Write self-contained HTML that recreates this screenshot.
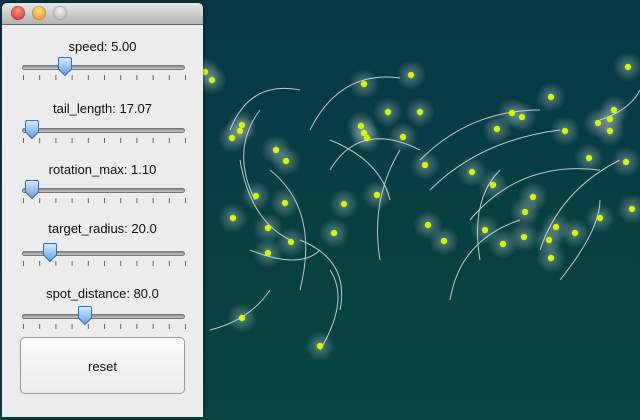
<!DOCTYPE html>
<html><head><meta charset="utf-8">
<style>
html,body{margin:0;padding:0;width:640px;height:420px;overflow:hidden;background:#073a44;font-family:"Liberation Sans",sans-serif;}
#canvas{position:absolute;left:0;top:0;}
#panel{position:absolute;left:2px;top:3px;width:201px;height:414px;background:#ececec;border-radius:5px 5px 0 0;box-shadow:0 0 4px rgba(0,0,0,.6);}
#titlebar{height:21px;border-radius:5px 5px 0 0;background:linear-gradient(#e8e8e8,#b4b4b4);border-bottom:1px solid #666;position:relative;}
.tl{position:absolute;top:3px;width:14px;height:14px;border-radius:50%;box-shadow:inset 0 0 1px rgba(0,0,0,.6);}
.lbl{position:absolute;left:0;width:201px;text-align:center;font-size:13px;color:#111;}
.track{position:absolute;left:20px;width:163px;height:5px;border-radius:3px;background:linear-gradient(#8a8a8a,#c8c8c8);border:1px solid #777;box-sizing:border-box;}
.ticks{position:absolute;left:21px;width:163px;height:5px;}
.thumb{position:absolute;width:16px;height:20px;}
#reset{position:absolute;left:18px;top:334px;width:165px;height:57px;border:1px solid #999;border-radius:5px;background:linear-gradient(#fafafa,#ececec);font-size:13px;text-align:center;line-height:57px;color:#111;box-sizing:border-box;}
</style></head><body>
<svg id="canvas" width="640" height="420" xmlns="http://www.w3.org/2000/svg">
<defs>
<linearGradient id="bg" x1="0" y1="0" x2="0" y2="1"><stop offset="0" stop-color="#063845"/><stop offset="1" stop-color="#084640"/></linearGradient>
<radialGradient id="glow"><stop offset="0" stop-color="#a8bfbd" stop-opacity=".5"/><stop offset="0.5" stop-color="#a8bfbd" stop-opacity=".25"/><stop offset="1" stop-color="#a8bfbd" stop-opacity="0"/></radialGradient>
</defs>
<rect width="640" height="420" fill="url(#bg)"/>
<g id="glows"></g><g id="trails" fill="none" stroke="#e4ecec" stroke-width="1" opacity=".8"></g><g id="dots"></g>
</svg>
<div id="panel">
 <div id="titlebar">
  <div class="tl" style="left:9px;background:radial-gradient(circle at 50% 35%,#ff9a8a,#d01f14);"></div>
  <div class="tl" style="left:30px;background:radial-gradient(circle at 50% 35%,#ffe08a,#e08a10);"></div>
  <div class="tl" style="left:51px;background:radial-gradient(circle at 50% 35%,#eee,#aaa);"></div>
 </div>
 <div id="sliders"></div>
 <div id="reset">reset</div>
</div>
<script>
var dotX=[205,212,364,411,628,242,240,232,361,364,367,388,403,420,286,276,425,377,497,512,522,551,565,589,598,610,614,610,626,256,285,233,268,291,268,344,334,428,444,472,493,533,525,485,503,524,549,556,575,600,632,551,242,320];
var dotY=[72,80,84,75,67,125,131,138,126,133,138,112,137,112,161,150,165,195,129,113,117,97,131,158,123,119,110,131,162,196,203,218,228,242,253,204,233,225,241,172,185,197,212,230,244,237,240,227,233,218,209,258,318,346];
var sliderLabels=["speed: 5.00","tail_length: 17.07","rotation_max: 1.10","target_radius: 20.0","spot_distance: 80.0"];
var sliderFrac=[0.25,0.03,0.03,0.15,0.39];
var trails=["M310 130 Q340 70 400 78","M330 170 Q360 120 420 150","M230 130 Q250 80 300 90","M255 200 Q230 150 260 110","M290 240 Q250 220 240 160","M300 290 Q320 210 270 170","M340 310 Q350 260 300 240","M420 160 Q470 110 540 110","M430 190 Q480 140 560 130","M470 220 Q520 160 600 170","M480 260 Q470 200 500 170","M540 250 Q560 190 620 160","M450 300 Q460 240 520 220","M560 280 Q600 230 600 200","M380 260 Q370 200 400 150","M210 330 Q250 320 270 290","M320 350 Q350 300 330 270","M330 140 Q380 160 390 200","M600 120 Q630 110 640 90","M250 250 Q300 270 320 250"];
var ns="http://www.w3.org/2000/svg";
var gG=document.getElementById('glows'),gT=document.getElementById('trails'),gD=document.getElementById('dots');
for(var i=0;i<dotX.length;i++){
 var g=document.createElementNS(ns,'circle');g.setAttribute('cx',dotX[i]);g.setAttribute('cy',dotY[i]);g.setAttribute('r',15);g.setAttribute('fill','url(#glow)');
 
 
 gG.appendChild(g);
 var d=document.createElementNS(ns,'circle');d.setAttribute('cx',dotX[i]);d.setAttribute('cy',dotY[i]);d.setAttribute('r',3.2);d.setAttribute('fill','#d8f800');
 
 
 gD.appendChild(d);
}
trails.forEach(function(p){var t=document.createElementNS(ns,'path');t.setAttribute('d',p);
 
 
 gT.appendChild(t);});
var sl=document.getElementById('sliders');
var lblTop=[36,98,159,218,283],trackTop=[62,125,185,248,311];
for(var k=0;k<5;k++){
 var l=document.createElement('div');l.className='lbl';l.style.top=lblTop[k]+'px';l.textContent=sliderLabels[k];
 
 
 sl.appendChild(l);
 var tr=document.createElement('div');tr.className='track';tr.style.top=trackTop[k]+'px';
 
 
 sl.appendChild(tr);
 var tk=document.createElementNS(ns,'svg');tk.setAttribute('class','ticks');tk.setAttribute('width','163');tk.setAttribute('height','5');tk.style.top=(trackTop[k]+10)+'px';
 
 
 for(var m=0;m<=10;m++){var ln=document.createElementNS(ns,'line');var x=0.5+m*16.2;ln.setAttribute('x1',x);ln.setAttribute('x2',x);ln.setAttribute('y1',0);ln.setAttribute('y2',5);ln.setAttribute('stroke','#666');tk.appendChild(ln);}
 sl.appendChild(tk);
 var th=document.createElementNS(ns,'svg');th.setAttribute('class','thumb');th.setAttribute('width','16');th.setAttribute('height','20');
 th.style.left=(18+sliderFrac[k]*147)+'px';th.style.top=(trackTop[k]-8)+'px';
 th.innerHTML='<defs><linearGradient id="tg'+k+'" x1="0" y1="0" x2="0" y2="1"><stop offset="0" stop-color="#d8ecff"/><stop offset="1" stop-color="#5a9ee8"/></linearGradient></defs><path d="M1.5 2 Q1.5 0.5 3 0.5 H13 Q14.5 0.5 14.5 2 V12 L8 18.5 L1.5 12 Z" fill="url(#tg'+k+')" stroke="#3a6aa8"/>';
 
 
 sl.appendChild(th);
}
</script>
</body></html>
